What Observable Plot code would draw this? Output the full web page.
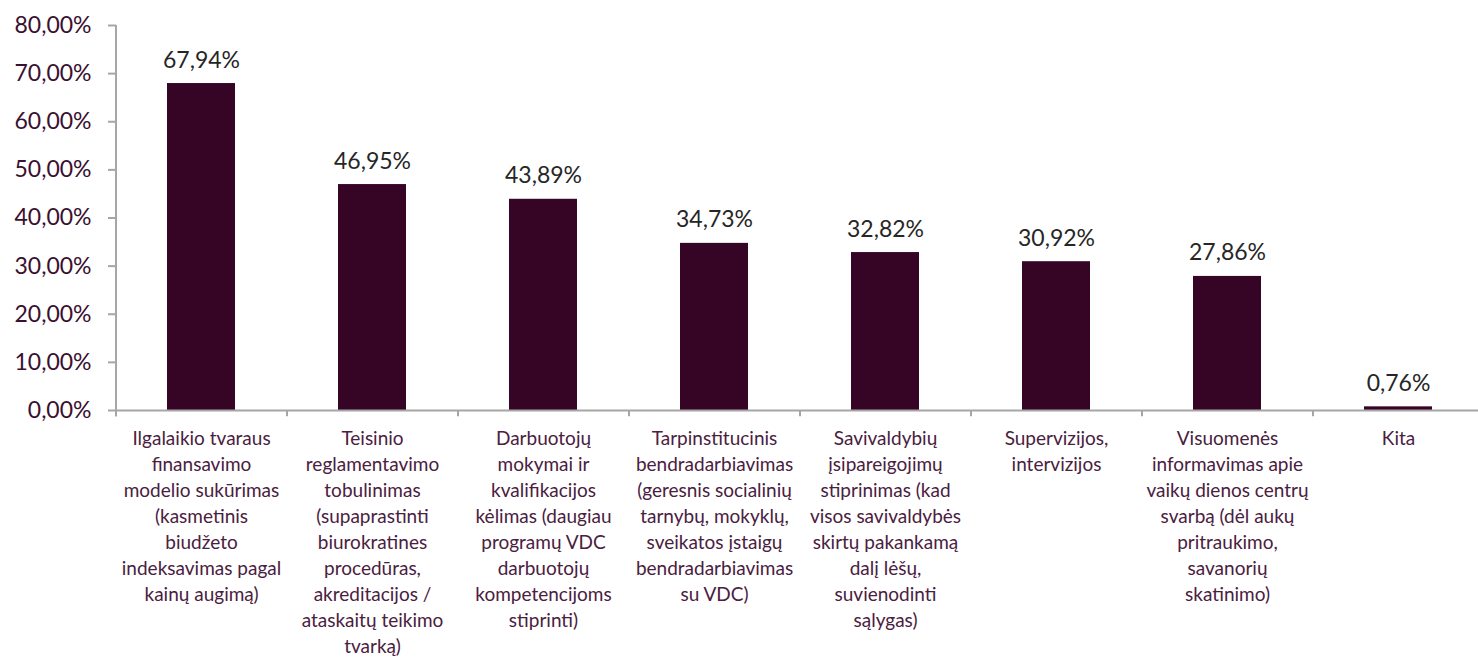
<!DOCTYPE html>
<html>
<head>
<meta charset="utf-8">
<script src="https://cdn.jsdelivr.net/npm/d3@7"></script>
<script src="https://cdn.jsdelivr.net/npm/@observablehq/plot@0.6"></script>
<style>
  html, body { margin: 0; padding: 0; background: #fff; }
  #chart svg { display: block; }
</style>
</head>
<body>
<div id="chart"></div>
<script>
const categories = [
  "Ilgalaikio tvaraus finansavimo modelio sukūrimas",
  "Teisinio reglamentavimo tobulinimas",
  "Darbuotojų mokymai ir kvalifikacijos kėlimas",
  "Tarpinstitucinis bendradarbiavimas",
  "Savivaldybių įsipareigojimų stiprinimas",
  "Supervizijos, intervizijos",
  "Visuomenės informavimas apie vaikų dienos centrų svarbą",
  "Kita"
];
const tickLabels = [
  "Ilgalaikio tvaraus\nfinansavimo\nmodelio sukūrimas\n(kasmetinis\nbiudžeto\nindeksavimas pagal\nkainų augimą)",
  "Teisinio\nreglamentavimo\ntobulinimas\n(supaprastinti\nbiurokratines\nprocedūras,\nakreditacijos /\nataskaitų teikimo\ntvarką)",
  "Darbuotojų\nmokymai ir\nkvalifikacijos\nkėlimas (daugiau\nprogramų VDC\ndarbuotojų\nkompetencijoms\nstiprinti)",
  "Tarpinstitucinis\nbendradarbiavimas\n(geresnis socialinių\ntarnybų, mokyklų,\nsveikatos įstaigų\nbendradarbiavimas\nsu VDC)",
  "Savivaldybių\nįsipareigojimų\nstiprinimas (kad\nvisos savivaldybės\nskirtų pakankamą\ndalį lėšų,\nsuvienodinti\nsąlygas)",
  "Supervizijos,\nintervizijos",
  "Visuomenės\ninformavimas apie\nvaikų dienos centrų\nsvarbą (dėl aukų\npritraukimo,\nsavanorių\nskatinimo)",
  "Kita"
];
const values = [67.94, 46.95, 43.89, 34.73, 32.82, 30.92, 27.86, 0.76];
const yTicks = [0, 10, 20, 30, 40, 50, 60, 70, 80];

const data = categories.map((c, i) => ({category: c, value: values[i], label: tickLabels[i]}));
const labelOf = new Map(categories.map((c, i) => [c, tickLabels[i]]));
const fmt = v => v.toFixed(2).replace(".", ",") + "%";

const xRange = [116, 1484];
const step = (xRange[1] - xRange[0]) / categories.length;
const axisGray = "#a6a6a6";
const barColor = "#360526";
const labelColor = "#4a2040";

const chart = Plot.plot({
  width: 1478,
  height: 657,
  marginTop: 25,
  marginBottom: 247,
  marginLeft: 116,
  marginRight: 0,
  style: {fontFamily: "Lato, 'Open Sans', sans-serif", background: "#fff"},
  x: {type: "band", domain: categories, range: xRange, paddingInner: 0.6, paddingOuter: 0.3, label: null},
  y: {domain: [0, 80], label: null},
  marks: [
    Plot.barY(data, {x: "category", y: "value", fill: barColor}),
    Plot.ruleY([0], {stroke: axisGray, strokeWidth: 2}),
    Plot.ruleX([categories[0]], {dx: -step / 2, y1: -1.3, y2: 80, stroke: axisGray, strokeWidth: 2}),
    Plot.ruleX(categories, {dx: -step / 2, y1: 0, y2: -1.3, stroke: axisGray, strokeWidth: 2}),
    Plot.axisY({ticks: yTicks, tickSize: 8, tickFormat: () => "", stroke: axisGray, strokeWidth: 2, label: null}),
    Plot.axisY({ticks: yTicks, tickSize: 0, tickPadding: 25, tickFormat: fmt, fill: "#3a1030", fontSize: 23, label: null}),
    Plot.axisX({tickSize: 0, tickPadding: 16, tickFormat: d => labelOf.get(d), fill: labelColor, fontSize: 19, lineHeight: 1.37, label: null}),
    Plot.text(data, {x: "category", y: "value", text: d => fmt(d.value), dy: -16, lineAnchor: "bottom", fontSize: 23, fill: "#262626"})
  ]
});
document.getElementById("chart").appendChild(chart);
</script>
</body>
</html>
